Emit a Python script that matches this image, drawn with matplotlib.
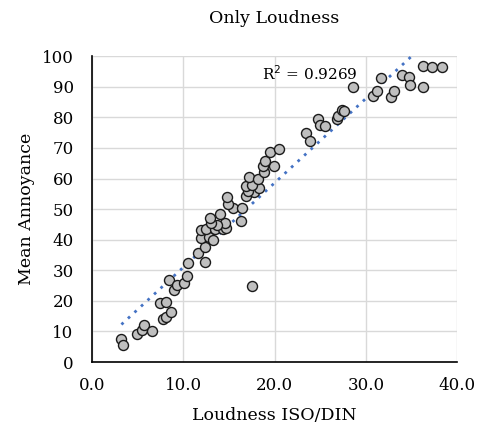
import numpy as np
import matplotlib.pyplot as plt
import matplotlib.ticker as ticker

plt.rcParams['font.family'] = ['DejaVu Serif']

# Loudness ISO/DIN (x) vs mean annoyance (y)
loudness = [
    3.25, 3.45, 4.9, 5.55, 5.7, 6.6, 7.45, 8.1, 7.75, 8.1, 8.7, 8.45, 9.0, 9.35,
    10.1, 10.4, 10.55, 11.6, 12.4,
    12.4, 12.0, 12.8, 13.3, 12.0, 12.55, 13.45, 14.35, 14.7, 14.55, 13.65, 13.0,
    12.9, 14.0, 16.3, 15.5, 16.4, 14.9, 14.85, 16.85, 17.8, 17.1, 18.3, 16.9,
    17.5, 17.2, 18.2, 18.9, 18.7, 19.9, 19.0, 19.5, 20.5, 17.5,
    23.4, 23.9, 24.7, 25.0, 25.5, 26.8, 26.9, 27.4, 27.6, 28.6, 30.8, 31.2,
    31.65, 32.7, 33.1, 33.95, 34.75, 34.8, 36.2, 36.2, 37.2, 38.3,
]
annoyance = [
    7.4, 5.6, 9.0, 10.5, 12.1, 10.2, 19.2, 19.7, 14.0, 14.8, 16.3, 26.8, 23.5, 25.2,
    25.7, 28.1, 32.4, 35.8, 32.8,
    37.7, 40.4, 40.8, 39.9, 43.1, 43.4, 43.4, 43.4, 43.7, 45.5, 44.8, 45.3,
    47.0, 48.3, 46.1, 50.2, 50.5, 51.6, 54.0, 54.2, 55.7, 56.0, 56.8, 57.5,
    57.8, 60.6, 60.0, 62.2, 64.1, 64.1, 65.8, 68.7, 69.8, 25.0,
    74.9, 72.3, 79.4, 77.5, 77.1, 79.3, 80.4, 82.5, 82.2, 90.0, 86.9, 88.7,
    92.9, 86.7, 88.7, 93.8, 93.2, 90.7, 89.8, 96.7, 96.5, 96.3,
]
r2_label = 'R$^2$ = 0.9269'

x = np.array(loudness)
y = np.array(annoyance)
slope, intercept = np.polyfit(x, y, 1)
xs = np.linspace(x.min(), x.max(), 100)

fig = plt.figure(figsize=(4.84, 4.32), dpi=100)
ax = fig.add_axes([0.1895, 0.162, 0.7555, 0.708])

ax.scatter(x, y, s=52, color='#BFBFBF', edgecolor='#1a1a1a', linewidth=1.0, zorder=3)
ax.plot(xs, slope * xs + intercept, color='#4472C4', linestyle=(0, (1, 2.2)),
        linewidth=2.0, zorder=2)

ax.set_xlim(0, 40)
ax.set_ylim(0, 100)
ax.xaxis.set_major_locator(ticker.MultipleLocator(10))
ax.yaxis.set_major_locator(ticker.MultipleLocator(10))
ax.xaxis.set_major_formatter(ticker.FormatStrFormatter('%.1f'))
ax.grid(True, color='#D9D9D9', linewidth=1.0, zorder=0)
ax.set_axisbelow(True)
for side in ['top', 'right']:
    ax.spines[side].set_visible(False)
for side in ['left', 'bottom']:
    ax.spines[side].set_color('black')
    ax.spines[side].set_linewidth(1.2)
ax.tick_params(length=0, labelsize=12)
ax.tick_params(axis='x', pad=11)
ax.tick_params(axis='y', pad=13)

ax.set_xlabel('Loudness ISO/DIN', fontsize=12.5, labelpad=9)
ax.set_ylabel('Mean Annoyance', fontsize=12.5, labelpad=5)
ax.set_title('Only Loudness', fontsize=12.5, pad=24)
ax.text(23.8, 94.4, r2_label, fontsize=11, ha='center', va='center')

fig.savefig('out.png', dpi=100)
